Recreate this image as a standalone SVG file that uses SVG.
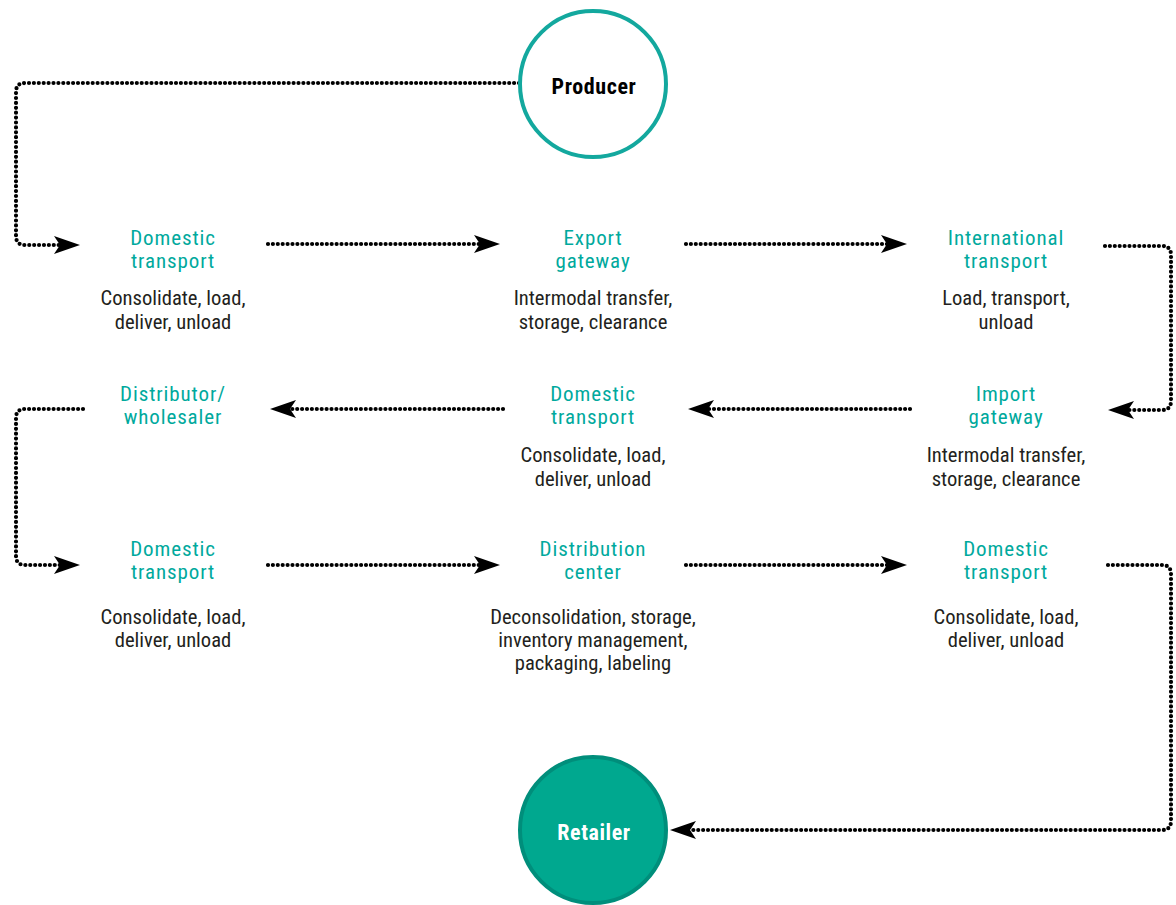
<svg xmlns="http://www.w3.org/2000/svg" width="1176" height="905" viewBox="0 0 1176 905">
<style>
.t{font-family:"Liberation Sans Narrow","Roboto Condensed","DejaVu Sans Condensed","Liberation Sans",sans-serif;font-size:21px;letter-spacing:0.9px;fill:#00a99d;text-anchor:middle}
.d{font-family:"Liberation Sans Narrow","Roboto Condensed","DejaVu Sans Condensed","Liberation Sans",sans-serif;font-size:20.6px;fill:#231f20;text-anchor:middle}
.b{font-family:"Liberation Sans Narrow","Roboto Condensed","DejaVu Sans Condensed","Liberation Sans",sans-serif;font-size:22px;letter-spacing:0.6px;font-weight:bold;text-anchor:middle}
.c{fill:none;stroke:#000;stroke-width:4.2;stroke-linecap:round;stroke-dasharray:0 4.9;marker-end:url(#ah)}
</style>
<defs>
<marker id="ah" viewBox="0 0 26 18" refX="6" refY="9" markerWidth="26" markerHeight="18" markerUnits="userSpaceOnUse" orient="auto">
<path d="M0,0 L26,9 L0,18 L6,9 Z" fill="#000"/>
</marker>
</defs>
<g id="connectors">
<path class="c" d="M519,83 H25 Q16,83 16,92 V236 Q16,245 25,245 H60"/>
<path class="c" d="M268,244 H480"/>
<path class="c" d="M686,244 H887"/>
<path class="c" d="M1105,246 H1162 Q1171,246 1171,255 V401 Q1171,410 1162,410 H1128"/>
<path class="c" d="M910,409 H708"/>
<path class="c" d="M503,409 H290"/>
<path class="c" d="M83,409 H25 Q16,409 16,418 V556 Q16,565 25,565 H60"/>
<path class="c" d="M268,565 H480"/>
<path class="c" d="M686,565 H887"/>
<path class="c" d="M1108,565 H1162 Q1171,565 1171,574 V821 Q1171,830 1162,830 H690"/>
</g>
<g id="producer">
<circle cx="593" cy="84" r="73" fill="#fff" stroke="#13a89e" stroke-width="4"/>
<text class="b" x="594" y="94" fill="#000">Producer</text>
</g>
<g id="domestic1">
<text class="t" x="173" y="245">Domestic</text><text class="t" x="173" y="268">transport</text>
<text class="d" x="173" y="305">Consolidate, load,</text><text class="d" x="173" y="329">deliver, unload</text>
</g>
<g id="export">
<text class="t" x="593" y="245">Export</text><text class="t" x="593" y="268">gateway</text>
<text class="d" x="593" y="305">Intermodal transfer,</text><text class="d" x="593" y="329">storage, clearance</text>
</g>
<g id="international">
<text class="t" x="1006" y="245">International</text><text class="t" x="1006" y="268">transport</text>
<text class="d" x="1006" y="305">Load, transport,</text><text class="d" x="1006" y="329">unload</text>
</g>
<g id="import">
<text class="t" x="1006" y="401">Import</text><text class="t" x="1006" y="424">gateway</text>
<text class="d" x="1006" y="462">Intermodal transfer,</text><text class="d" x="1006" y="486">storage, clearance</text>
</g>
<g id="domestic2">
<text class="t" x="593" y="401">Domestic</text><text class="t" x="593" y="424">transport</text>
<text class="d" x="593" y="462">Consolidate, load,</text><text class="d" x="593" y="486">deliver, unload</text>
</g>
<g id="distributor">
<text class="t" x="173" y="401">Distributor/</text><text class="t" x="173" y="424">wholesaler</text>
</g>
<g id="domestic3">
<text class="t" x="173" y="556">Domestic</text><text class="t" x="173" y="579">transport</text>
<text class="d" x="173" y="624">Consolidate, load,</text><text class="d" x="173" y="647">deliver, unload</text>
</g>
<g id="distribution">
<text class="t" x="593" y="556">Distribution</text><text class="t" x="593" y="579">center</text>
<text class="d" x="593" y="624">Deconsolidation, storage,</text><text class="d" x="593" y="647">inventory management,</text><text class="d" x="593" y="670">packaging, labeling</text>
</g>
<g id="domestic4">
<text class="t" x="1006" y="556">Domestic</text><text class="t" x="1006" y="579">transport</text>
<text class="d" x="1006" y="624">Consolidate, load,</text><text class="d" x="1006" y="647">deliver, unload</text>
</g>
<g id="retailer">
<circle cx="593" cy="830" r="73" fill="#00a88f" stroke="#008e7b" stroke-width="4"/>
<text class="b" x="594" y="840" fill="#fff">Retailer</text>
</g>
</svg>
